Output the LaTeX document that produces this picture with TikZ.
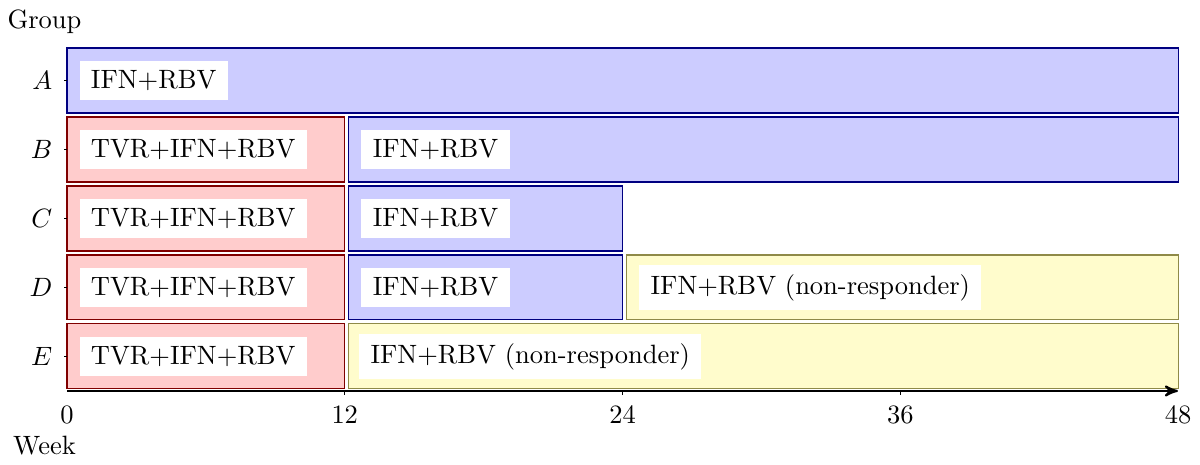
\documentclass[tikz,border=0pt]{standalone}
\usetikzlibrary{arrows,calc,positioning}

\tikzset{
  phaseblue/.style={fill=blue!20, draw=blue!50!black, thin},
  phasered/.style={fill=red!20, draw=red!50!black, thin},
  phaseyellow/.style={fill=yellow!20, draw=yellow!50!black, thin},
  druglabel/.style={fill=white, anchor=west, inner xsep=4.3pt, inner ysep=3.5pt},
}

\begin{document}
\begin{tikzpicture}[x=0.307cm, y=0.915cm]
\useasboundingbox (-2.894,-1.072) rectangle (48.95,5.667);

\coordinate (rowA) at (0, 4.5);
\coordinate (rowB) at (0, 3.5);
\coordinate (rowC) at (0, 2.5);
\coordinate (rowD) at (0, 1.5);
\coordinate (rowE) at (0, 0.5);

%group A
\filldraw [phaseblue] ($(rowA) + (0,-0.471)$) rectangle ($(rowA) + (48,0.471)$);
\node[druglabel] (labA1) at ($(rowA) + (0.52,0)$) {IFN+RBV};

%group B
\filldraw [phasered] ($(rowB) + (0,-0.471)$) rectangle ($(rowB) + (12,0.471)$);
\filldraw [phaseblue] ($(rowB) + (12.18,-0.471)$) rectangle ($(rowB) + (48,0.471)$);
\node[druglabel] (labB1) at ($(rowB) + (0.52,0)$) {TVR+IFN+RBV};
\node[druglabel] (labB2) at ($(rowB) + (12.7,0)$) {IFN+RBV};

%group C
\filldraw [phasered] ($(rowC) + (0,-0.471)$) rectangle ($(rowC) + (12,0.471)$);
\filldraw [phaseblue] ($(rowC) + (12.18,-0.471)$) rectangle ($(rowC) + (24,0.471)$);
\node[druglabel] (labC1) at ($(rowC) + (0.52,0)$) {TVR+IFN+RBV};
\node[druglabel] (labC2) at ($(rowC) + (12.7,0)$) {IFN+RBV};

%group D
\filldraw [phasered] ($(rowD) + (0,-0.471)$) rectangle ($(rowD) + (12,0.471)$);
\filldraw [phaseblue] ($(rowD) + (12.18,-0.471)$) rectangle ($(rowD) + (24,0.471)$);
\filldraw [phaseyellow] ($(rowD) + (24.18,-0.471)$) rectangle ($(rowD) + (48,0.471)$);
\node[druglabel] (labD1) at ($(rowD) + (0.52,0)$) {TVR+IFN+RBV};
\node[druglabel] (labD2) at ($(rowD) + (12.7,0)$) {IFN+RBV};
\node[druglabel] (labD3) at ($(rowD) + (24.7,0)$) {IFN+RBV (non-responder)};

%group E
\filldraw [phasered] ($(rowE) + (0,-0.471)$) rectangle ($(rowE) + (12,0.471)$);
\filldraw [phaseyellow] ($(rowE) + (12.18,-0.471)$) rectangle ($(rowE) + (48,0.471)$);
\node[druglabel] (labE1) at ($(rowE) + (0.52,0)$) {TVR+IFN+RBV};
\node[druglabel] (labE2) at ($(rowE) + (12.6,0)$) {IFN+RBV (non-responder)};

%group axis
\draw [thin] (rowA) to ($(rowA) + (-1.2pt,0)$);
\draw [thin] (rowB) to ($(rowB) + (-1.2pt,0)$);
\draw [thin] (rowC) to ($(rowC) + (-1.2pt,0)$);
\draw [thin] (rowD) to ($(rowD) + (-1.2pt,0)$);
\draw [thin] (rowE) to ($(rowE) + (-1.2pt,0)$);
\node[left=2pt of rowA] (nameA) {$A$};
\node[left=2pt of rowB] (nameB) {$B$};
\node[left=2pt of rowC] (nameC) {$C$};
\node[left=2pt of rowD] (nameD) {$D$};
\node[left=2pt of rowE] (nameE) {$E$};
\node[anchor=base] (group) at (-0.972, 5.261) {Group};

%week axis
\coordinate (week0) at (0, 0);
\coordinate (week12) at (12, 0);
\coordinate (week24) at (24, 0);
\coordinate (week36) at (36, 0);
\coordinate (week48) at (48, 0);
\draw [line width=0.8pt, -stealth'] (week0) to (week48);
\draw [thin] ($(week12) + (0,-1.5pt)$) to (week12);
\draw [thin] ($(week24) + (0,-1.5pt)$) to (week24);
\draw [thin] ($(week36) + (0,-1.5pt)$) to (week36);
\node[below=2pt of week0] (tick0) {0};
\node[below=2pt of week12] (tick12) {12};
\node[below=2pt of week24] (tick24) {24};
\node[below=2pt of week36] (tick36) {36};
\node[below=2pt of week48] (tick48) {48};
\node[anchor=base] (week) at (-0.972, -0.928) {Week};

\end{tikzpicture}
\end{document}
